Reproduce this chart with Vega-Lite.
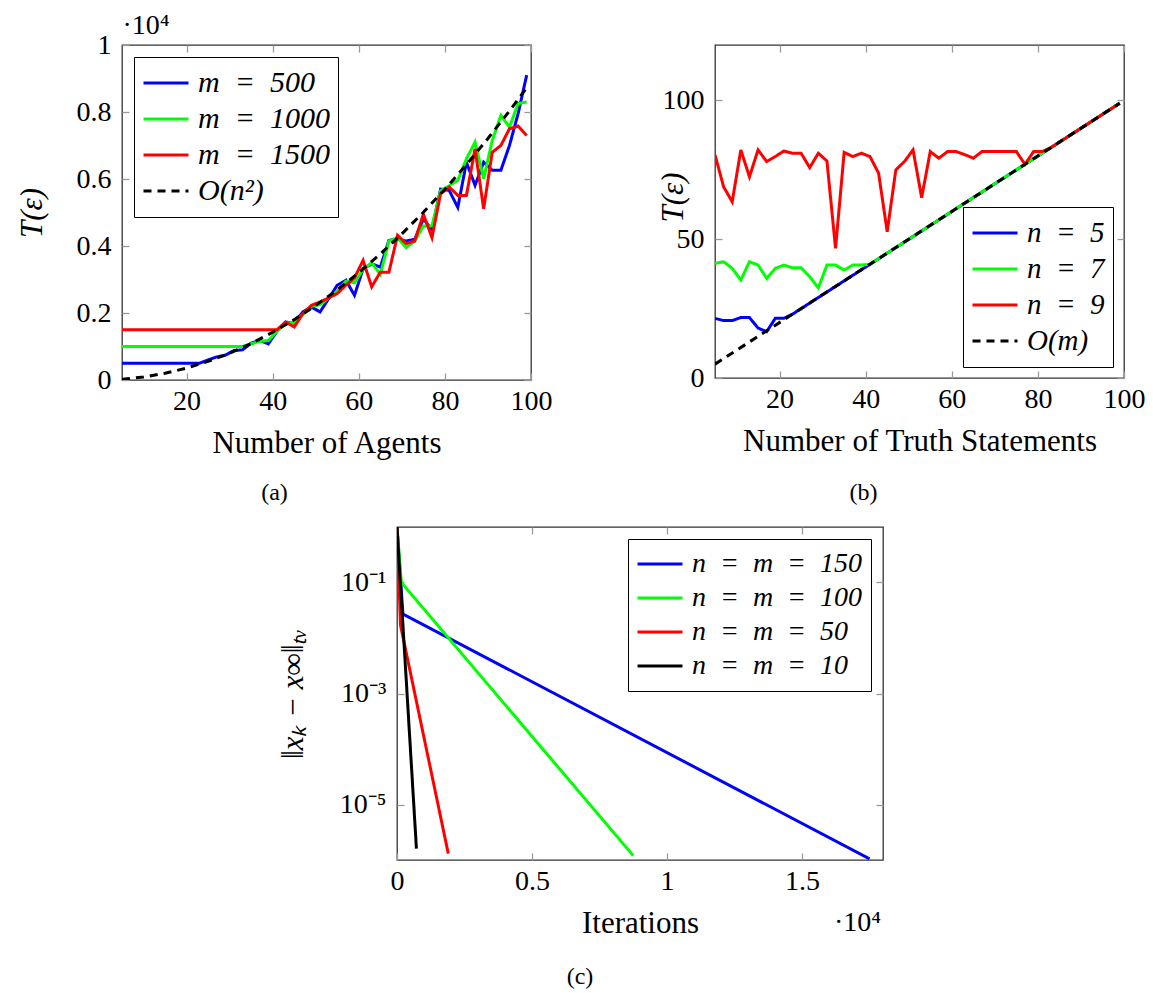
{
"$schema": "https://vega.github.io/schema/vega-lite/v6.json",
"padding": {"left": 15, "top": 10, "right": 0, "bottom": 8},
"spacing": 19,
"resolve": {"scale": {"color": "independent", "strokeDash": "independent"}},
"vconcat": [
{"concat": [
{
"width": 409, "height": 335,
"title": {"text": "(a)", "dx": -52, "offset": 23},
"data": {"values": [
{"s":"m\u2002=\u2002500","x":5,"y":500},{"s":"m\u2002=\u2002500","x":7,"y":500},{"s":"m\u2002=\u2002500","x":9,"y":500},{"s":"m\u2002=\u2002500","x":11,"y":500},{"s":"m\u2002=\u2002500","x":13,"y":500},{"s":"m\u2002=\u2002500","x":15,"y":500},{"s":"m\u2002=\u2002500","x":17,"y":500},{"s":"m\u2002=\u2002500","x":19,"y":500},{"s":"m\u2002=\u2002500","x":21,"y":500},{"s":"m\u2002=\u2002500","x":23,"y":500},{"s":"m\u2002=\u2002500","x":25,"y":600},{"s":"m\u2002=\u2002500","x":27,"y":690},{"s":"m\u2002=\u2002500","x":29,"y":740},{"s":"m\u2002=\u2002500","x":31,"y":880},{"s":"m\u2002=\u2002500","x":33,"y":900},{"s":"m\u2002=\u2002500","x":35,"y":1100},{"s":"m\u2002=\u2002500","x":37,"y":1180},{"s":"m\u2002=\u2002500","x":39,"y":1080},{"s":"m\u2002=\u2002500","x":41,"y":1450},{"s":"m\u2002=\u2002500","x":43,"y":1730},{"s":"m\u2002=\u2002500","x":45,"y":1700},{"s":"m\u2002=\u2002500","x":47,"y":2030},{"s":"m\u2002=\u2002500","x":49,"y":2180},{"s":"m\u2002=\u2002500","x":51,"y":2030},{"s":"m\u2002=\u2002500","x":53,"y":2430},{"s":"m\u2002=\u2002500","x":55,"y":2830},{"s":"m\u2002=\u2002500","x":57,"y":2980},{"s":"m\u2002=\u2002500","x":59,"y":2530},{"s":"m\u2002=\u2002500","x":61,"y":3320},{"s":"m\u2002=\u2002500","x":63,"y":3470},{"s":"m\u2002=\u2002500","x":65,"y":3370},{"s":"m\u2002=\u2002500","x":67,"y":4170},{"s":"m\u2002=\u2002500","x":69,"y":4200},{"s":"m\u2002=\u2002500","x":71,"y":4150},{"s":"m\u2002=\u2002500","x":73,"y":4200},{"s":"m\u2002=\u2002500","x":75,"y":4800},{"s":"m\u2002=\u2002500","x":77,"y":4500},{"s":"m\u2002=\u2002500","x":79,"y":5700},{"s":"m\u2002=\u2002500","x":81,"y":5660},{"s":"m\u2002=\u2002500","x":83,"y":5150},{"s":"m\u2002=\u2002500","x":85,"y":6500},{"s":"m\u2002=\u2002500","x":87,"y":5810},{"s":"m\u2002=\u2002500","x":89,"y":6500},{"s":"m\u2002=\u2002500","x":91,"y":6260},{"s":"m\u2002=\u2002500","x":93,"y":6260},{"s":"m\u2002=\u2002500","x":95,"y":7000},{"s":"m\u2002=\u2002500","x":97,"y":7950},{"s":"m\u2002=\u2002500","x":99,"y":9100},
{"s":"m\u2002=\u20021000","x":5,"y":1000},{"s":"m\u2002=\u20021000","x":7,"y":1000},{"s":"m\u2002=\u20021000","x":9,"y":1000},{"s":"m\u2002=\u20021000","x":11,"y":1000},{"s":"m\u2002=\u20021000","x":13,"y":1000},{"s":"m\u2002=\u20021000","x":15,"y":1000},{"s":"m\u2002=\u20021000","x":17,"y":1000},{"s":"m\u2002=\u20021000","x":19,"y":1000},{"s":"m\u2002=\u20021000","x":21,"y":1000},{"s":"m\u2002=\u20021000","x":23,"y":1000},{"s":"m\u2002=\u20021000","x":25,"y":1000},{"s":"m\u2002=\u20021000","x":27,"y":1000},{"s":"m\u2002=\u20021000","x":29,"y":1000},{"s":"m\u2002=\u20021000","x":31,"y":1000},{"s":"m\u2002=\u20021000","x":33,"y":1000},{"s":"m\u2002=\u20021000","x":35,"y":1080},{"s":"m\u2002=\u20021000","x":37,"y":1150},{"s":"m\u2002=\u20021000","x":39,"y":1180},{"s":"m\u2002=\u20021000","x":41,"y":1450},{"s":"m\u2002=\u20021000","x":43,"y":1700},{"s":"m\u2002=\u20021000","x":45,"y":1720},{"s":"m\u2002=\u20021000","x":47,"y":1950},{"s":"m\u2002=\u20021000","x":49,"y":2200},{"s":"m\u2002=\u20021000","x":51,"y":2250},{"s":"m\u2002=\u20021000","x":53,"y":2450},{"s":"m\u2002=\u20021000","x":55,"y":2650},{"s":"m\u2002=\u20021000","x":57,"y":2950},{"s":"m\u2002=\u20021000","x":59,"y":2900},{"s":"m\u2002=\u20021000","x":61,"y":3300},{"s":"m\u2002=\u20021000","x":63,"y":3500},{"s":"m\u2002=\u20021000","x":65,"y":3150},{"s":"m\u2002=\u20021000","x":67,"y":4150},{"s":"m\u2002=\u20021000","x":69,"y":4250},{"s":"m\u2002=\u20021000","x":71,"y":3950},{"s":"m\u2002=\u20021000","x":73,"y":4150},{"s":"m\u2002=\u20021000","x":75,"y":4600},{"s":"m\u2002=\u20021000","x":77,"y":4600},{"s":"m\u2002=\u20021000","x":79,"y":5650},{"s":"m\u2002=\u20021000","x":81,"y":5800},{"s":"m\u2002=\u20021000","x":83,"y":5960},{"s":"m\u2002=\u20021000","x":85,"y":6600},{"s":"m\u2002=\u20021000","x":87,"y":7100},{"s":"m\u2002=\u20021000","x":89,"y":6010},{"s":"m\u2002=\u20021000","x":91,"y":7150},{"s":"m\u2002=\u20021000","x":93,"y":7900},{"s":"m\u2002=\u20021000","x":95,"y":7550},{"s":"m\u2002=\u20021000","x":97,"y":8250},{"s":"m\u2002=\u20021000","x":99,"y":8300},
{"s":"m\u2002=\u20021500","x":5,"y":1500},{"s":"m\u2002=\u20021500","x":7,"y":1500},{"s":"m\u2002=\u20021500","x":9,"y":1500},{"s":"m\u2002=\u20021500","x":11,"y":1500},{"s":"m\u2002=\u20021500","x":13,"y":1500},{"s":"m\u2002=\u20021500","x":15,"y":1500},{"s":"m\u2002=\u20021500","x":17,"y":1500},{"s":"m\u2002=\u20021500","x":19,"y":1500},{"s":"m\u2002=\u20021500","x":21,"y":1500},{"s":"m\u2002=\u20021500","x":23,"y":1500},{"s":"m\u2002=\u20021500","x":25,"y":1500},{"s":"m\u2002=\u20021500","x":27,"y":1500},{"s":"m\u2002=\u20021500","x":29,"y":1500},{"s":"m\u2002=\u20021500","x":31,"y":1500},{"s":"m\u2002=\u20021500","x":33,"y":1500},{"s":"m\u2002=\u20021500","x":35,"y":1500},{"s":"m\u2002=\u20021500","x":37,"y":1500},{"s":"m\u2002=\u20021500","x":39,"y":1500},{"s":"m\u2002=\u20021500","x":41,"y":1500},{"s":"m\u2002=\u20021500","x":43,"y":1730},{"s":"m\u2002=\u20021500","x":45,"y":1580},{"s":"m\u2002=\u20021500","x":47,"y":1980},{"s":"m\u2002=\u20021500","x":49,"y":2230},{"s":"m\u2002=\u20021500","x":51,"y":2330},{"s":"m\u2002=\u20021500","x":53,"y":2450},{"s":"m\u2002=\u20021500","x":55,"y":2580},{"s":"m\u2002=\u20021500","x":57,"y":2830},{"s":"m\u2002=\u20021500","x":59,"y":3050},{"s":"m\u2002=\u20021500","x":61,"y":3570},{"s":"m\u2002=\u20021500","x":63,"y":2780},{"s":"m\u2002=\u20021500","x":65,"y":3220},{"s":"m\u2002=\u20021500","x":67,"y":3220},{"s":"m\u2002=\u20021500","x":69,"y":4320},{"s":"m\u2002=\u20021500","x":71,"y":4070},{"s":"m\u2002=\u20021500","x":73,"y":4150},{"s":"m\u2002=\u20021500","x":75,"y":4950},{"s":"m\u2002=\u20021500","x":77,"y":4250},{"s":"m\u2002=\u20021500","x":79,"y":5560},{"s":"m\u2002=\u20021500","x":81,"y":5760},{"s":"m\u2002=\u20021500","x":83,"y":5510},{"s":"m\u2002=\u20021500","x":85,"y":5510},{"s":"m\u2002=\u20021500","x":87,"y":6900},{"s":"m\u2002=\u20021500","x":89,"y":5110},{"s":"m\u2002=\u20021500","x":91,"y":6800},{"s":"m\u2002=\u20021500","x":93,"y":7000},{"s":"m\u2002=\u20021500","x":95,"y":7500},{"s":"m\u2002=\u20021500","x":97,"y":7580},{"s":"m\u2002=\u20021500","x":99,"y":7300},
{"s":"O(n²)","x":5,"y":22},{"s":"O(n²)","x":10,"y":89},{"s":"O(n²)","x":15,"y":200},{"s":"O(n²)","x":20,"y":356},{"s":"O(n²)","x":25,"y":556},{"s":"O(n²)","x":30,"y":801},{"s":"O(n²)","x":35,"y":1090},{"s":"O(n²)","x":40,"y":1424},{"s":"O(n²)","x":45,"y":1802},{"s":"O(n²)","x":50,"y":2225},{"s":"O(n²)","x":55,"y":2692},{"s":"O(n²)","x":60,"y":3204},{"s":"O(n²)","x":65,"y":3760},{"s":"O(n²)","x":70,"y":4361},{"s":"O(n²)","x":75,"y":5006},{"s":"O(n²)","x":80,"y":5696},{"s":"O(n²)","x":85,"y":6430},{"s":"O(n²)","x":90,"y":7209},{"s":"O(n²)","x":95,"y":8032},{"s":"O(n²)","x":99,"y":8723}
]},
"resolve": {"scale": {"x": "independent", "y": "independent"}},
"layer": [
{"transform": [{"filter": "datum.s !== 'O(n²)'"}],
 "mark": {"type": "line", "strokeWidth": 3, "clip": true},
 "encoding": {
  "x": {"field": "x", "type": "quantitative", "scale": {"domain": [5, 100], "nice": false, "zero": false}, "axis": {"orient": "bottom", "values": [20, 40, 60, 80, 100], "title": "Number of Agents"}},
  "y": {"field": "y", "type": "quantitative", "scale": {"domain": [0, 10000], "nice": false}, "axis": {"orient": "left", "values": [0, 2000, 4000, 6000, 8000, 10000], "labelExpr": "format(datum.value/10000, '.1~f')", "title": "T(ε)", "titleFontStyle": "italic", "titlePadding": 28}},
  "color": {"field": "s", "type": "nominal", "scale": {"domain": ["m\u2002=\u2002500", "m\u2002=\u20021000", "m\u2002=\u20021500", "O(n²)"], "range": ["#0000ff", "#00ff00", "#ff0000", "#000000"]}, "legend": {"orient": "top-left", "offset": 12, "labelFontSize": 30, "clipHeight": 36}},
  "strokeDash": {"field": "s", "type": "nominal", "scale": {"domain": ["m\u2002=\u2002500", "m\u2002=\u20021000", "m\u2002=\u20021500", "O(n²)"], "range": [[1, 0], [1, 0], [1, 0], [8, 6]]}, "legend": {"orient": "top-left", "offset": 12, "labelFontSize": 30, "clipHeight": 36}}
 }},
{"transform": [{"filter": "datum.s === 'O(n²)'"}],
 "mark": {"type": "line", "strokeWidth": 3, "clip": true},
 "encoding": {
  "x": {"field": "x", "type": "quantitative", "scale": {"domain": [5, 100], "nice": false, "zero": false}, "axis": {"orient": "top", "values": [20, 40, 60, 80, 100], "labels": false, "title": "·10⁴", "titleFontSize": 28, "titleFontStyle": "normal", "titleAnchor": "start", "titleAlign": "left", "titlePadding": 5}},
  "y": {"field": "y", "type": "quantitative", "scale": {"domain": [0, 10000], "nice": false}, "axis": {"orient": "right", "values": [0, 2000, 4000, 6000, 8000, 10000], "labels": false, "title": null}},
  "color": {"field": "s", "type": "nominal"},
  "strokeDash": {"field": "s", "type": "nominal"}
 }}
]
},
{
"width": 409, "height": 333,
"title": {"text": "(b)", "dx": -56, "offset": 25},
"data": {"values": [
{"s":"n\u2002=\u20025","x":5,"y":21.5},{"s":"n\u2002=\u20025","x":7,"y":20.7},{"s":"n\u2002=\u20025","x":9,"y":20.7},{"s":"n\u2002=\u20025","x":11,"y":21.8},{"s":"n\u2002=\u20025","x":13,"y":21.8},{"s":"n\u2002=\u20025","x":15,"y":18},{"s":"n\u2002=\u20025","x":17,"y":16.7},{"s":"n\u2002=\u20025","x":19,"y":21.5},{"s":"n\u2002=\u20025","x":21,"y":21.5},{"s":"n\u2002=\u20025","x":23,"y":23},{"s":"n\u2002=\u20025","x":25,"y":25},{"s":"n\u2002=\u20025","x":27,"y":27},{"s":"n\u2002=\u20025","x":29,"y":29},{"s":"n\u2002=\u20025","x":31,"y":31},{"s":"n\u2002=\u20025","x":33,"y":33},{"s":"n\u2002=\u20025","x":35,"y":35},{"s":"n\u2002=\u20025","x":37,"y":37},{"s":"n\u2002=\u20025","x":39,"y":39},{"s":"n\u2002=\u20025","x":41,"y":41},{"s":"n\u2002=\u20025","x":43,"y":43},{"s":"n\u2002=\u20025","x":45,"y":45},{"s":"n\u2002=\u20025","x":47,"y":47},{"s":"n\u2002=\u20025","x":49,"y":49},{"s":"n\u2002=\u20025","x":51,"y":51},{"s":"n\u2002=\u20025","x":53,"y":53},{"s":"n\u2002=\u20025","x":55,"y":55},{"s":"n\u2002=\u20025","x":57,"y":57},{"s":"n\u2002=\u20025","x":59,"y":59},{"s":"n\u2002=\u20025","x":61,"y":61},{"s":"n\u2002=\u20025","x":63,"y":63},{"s":"n\u2002=\u20025","x":65,"y":65},{"s":"n\u2002=\u20025","x":67,"y":67},{"s":"n\u2002=\u20025","x":69,"y":69},{"s":"n\u2002=\u20025","x":71,"y":71},{"s":"n\u2002=\u20025","x":73,"y":73},{"s":"n\u2002=\u20025","x":75,"y":75},{"s":"n\u2002=\u20025","x":77,"y":77},{"s":"n\u2002=\u20025","x":79,"y":79},{"s":"n\u2002=\u20025","x":81,"y":81},{"s":"n\u2002=\u20025","x":83,"y":83},{"s":"n\u2002=\u20025","x":85,"y":85},{"s":"n\u2002=\u20025","x":87,"y":87},{"s":"n\u2002=\u20025","x":89,"y":89},{"s":"n\u2002=\u20025","x":91,"y":91},{"s":"n\u2002=\u20025","x":93,"y":93},{"s":"n\u2002=\u20025","x":95,"y":95},{"s":"n\u2002=\u20025","x":97,"y":97},{"s":"n\u2002=\u20025","x":99,"y":99},
{"s":"n\u2002=\u20027","x":5,"y":41.3},{"s":"n\u2002=\u20027","x":7,"y":41.9},{"s":"n\u2002=\u20027","x":9,"y":39.5},{"s":"n\u2002=\u20027","x":11,"y":35.3},{"s":"n\u2002=\u20027","x":13,"y":41.9},{"s":"n\u2002=\u20027","x":15,"y":40.7},{"s":"n\u2002=\u20027","x":17,"y":35.9},{"s":"n\u2002=\u20027","x":19,"y":39.5},{"s":"n\u2002=\u20027","x":21,"y":40.7},{"s":"n\u2002=\u20027","x":23,"y":39.7},{"s":"n\u2002=\u20027","x":25,"y":39.7},{"s":"n\u2002=\u20027","x":27,"y":36.5},{"s":"n\u2002=\u20027","x":29,"y":32.5},{"s":"n\u2002=\u20027","x":31,"y":40.7},{"s":"n\u2002=\u20027","x":33,"y":40.7},{"s":"n\u2002=\u20027","x":35,"y":38.9},{"s":"n\u2002=\u20027","x":37,"y":40.7},{"s":"n\u2002=\u20027","x":39,"y":40.7},{"s":"n\u2002=\u20027","x":41,"y":41},{"s":"n\u2002=\u20027","x":43,"y":43},{"s":"n\u2002=\u20027","x":45,"y":45},{"s":"n\u2002=\u20027","x":47,"y":47},{"s":"n\u2002=\u20027","x":49,"y":49},{"s":"n\u2002=\u20027","x":51,"y":51},{"s":"n\u2002=\u20027","x":53,"y":53},{"s":"n\u2002=\u20027","x":55,"y":55},{"s":"n\u2002=\u20027","x":57,"y":57},{"s":"n\u2002=\u20027","x":59,"y":59},{"s":"n\u2002=\u20027","x":61,"y":61},{"s":"n\u2002=\u20027","x":63,"y":63},{"s":"n\u2002=\u20027","x":65,"y":65},{"s":"n\u2002=\u20027","x":67,"y":67},{"s":"n\u2002=\u20027","x":69,"y":69},{"s":"n\u2002=\u20027","x":71,"y":71},{"s":"n\u2002=\u20027","x":73,"y":73},{"s":"n\u2002=\u20027","x":75,"y":75},{"s":"n\u2002=\u20027","x":77,"y":77},{"s":"n\u2002=\u20027","x":79,"y":79},{"s":"n\u2002=\u20027","x":81,"y":81},{"s":"n\u2002=\u20027","x":83,"y":83},{"s":"n\u2002=\u20027","x":85,"y":85},{"s":"n\u2002=\u20027","x":87,"y":87},{"s":"n\u2002=\u20027","x":89,"y":89},{"s":"n\u2002=\u20027","x":91,"y":91},{"s":"n\u2002=\u20027","x":93,"y":93},{"s":"n\u2002=\u20027","x":95,"y":95},{"s":"n\u2002=\u20027","x":97,"y":97},{"s":"n\u2002=\u20027","x":99,"y":99},
{"s":"n\u2002=\u20029","x":5,"y":80.4},{"s":"n\u2002=\u20029","x":7,"y":68.9},{"s":"n\u2002=\u20029","x":9,"y":63.5},{"s":"n\u2002=\u20029","x":11,"y":82.2},{"s":"n\u2002=\u20029","x":13,"y":72.5},{"s":"n\u2002=\u20029","x":15,"y":82.2},{"s":"n\u2002=\u20029","x":17,"y":78},{"s":"n\u2002=\u20029","x":19,"y":79.8},{"s":"n\u2002=\u20029","x":21,"y":81.8},{"s":"n\u2002=\u20029","x":23,"y":81},{"s":"n\u2002=\u20029","x":25,"y":81},{"s":"n\u2002=\u20029","x":27,"y":75.8},{"s":"n\u2002=\u20029","x":29,"y":81},{"s":"n\u2002=\u20029","x":31,"y":78.2},{"s":"n\u2002=\u20029","x":33,"y":46.7},{"s":"n\u2002=\u20029","x":35,"y":81.3},{"s":"n\u2002=\u20029","x":37,"y":79.8},{"s":"n\u2002=\u20029","x":39,"y":81},{"s":"n\u2002=\u20029","x":41,"y":79.8},{"s":"n\u2002=\u20029","x":43,"y":73.8},{"s":"n\u2002=\u20029","x":45,"y":52.7},{"s":"n\u2002=\u20029","x":47,"y":75},{"s":"n\u2002=\u20029","x":49,"y":78},{"s":"n\u2002=\u20029","x":51,"y":82.2},{"s":"n\u2002=\u20029","x":53,"y":65},{"s":"n\u2002=\u20029","x":55,"y":81.6},{"s":"n\u2002=\u20029","x":57,"y":79.2},{"s":"n\u2002=\u20029","x":59,"y":81.6},{"s":"n\u2002=\u20029","x":61,"y":81.6},{"s":"n\u2002=\u20029","x":63,"y":80.5},{"s":"n\u2002=\u20029","x":65,"y":79.2},{"s":"n\u2002=\u20029","x":67,"y":81.6},{"s":"n\u2002=\u20029","x":69,"y":81.6},{"s":"n\u2002=\u20029","x":71,"y":81.6},{"s":"n\u2002=\u20029","x":73,"y":81.6},{"s":"n\u2002=\u20029","x":75,"y":81.6},{"s":"n\u2002=\u20029","x":77,"y":77},{"s":"n\u2002=\u20029","x":79,"y":81.6},{"s":"n\u2002=\u20029","x":81,"y":81.6},{"s":"n\u2002=\u20029","x":83,"y":83},{"s":"n\u2002=\u20029","x":85,"y":85},{"s":"n\u2002=\u20029","x":87,"y":87},{"s":"n\u2002=\u20029","x":89,"y":89},{"s":"n\u2002=\u20029","x":91,"y":91},{"s":"n\u2002=\u20029","x":93,"y":93},{"s":"n\u2002=\u20029","x":95,"y":95},{"s":"n\u2002=\u20029","x":97,"y":97},{"s":"n\u2002=\u20029","x":99,"y":99},
{"s":"O(m)","x":5,"y":5},{"s":"O(m)","x":99,"y":99}
]},
"resolve": {"scale": {"x": "independent", "y": "independent"}},
"layer": [
{"transform": [{"filter": "datum.s !== 'O(m)'"}],
 "mark": {"type": "line", "strokeWidth": 3, "clip": true},
 "encoding": {
  "x": {"field": "x", "type": "quantitative", "scale": {"domain": [5, 100], "nice": false, "zero": false}, "axis": {"orient": "bottom", "values": [20, 40, 60, 80, 100], "title": "Number of Truth Statements"}},
  "y": {"field": "y", "type": "quantitative", "scale": {"domain": [0, 120], "nice": false}, "axis": {"orient": "left", "values": [0, 50, 100], "title": "T(ε)", "titleFontStyle": "italic", "titlePadding": -27, "titleY": 152}},
  "color": {"field": "s", "type": "nominal", "scale": {"domain": ["n\u2002=\u20025", "n\u2002=\u20027", "n\u2002=\u20029", "O(m)"], "range": ["#0000ff", "#00ff00", "#ff0000", "#000000"]}, "legend": {"orient": "bottom-right", "offset": 11, "labelFontSize": 29, "clipHeight": 36}},
  "strokeDash": {"field": "s", "type": "nominal", "scale": {"domain": ["n\u2002=\u20025", "n\u2002=\u20027", "n\u2002=\u20029", "O(m)"], "range": [[1, 0], [1, 0], [1, 0], [8, 6]]}, "legend": {"orient": "bottom-right", "offset": 11, "labelFontSize": 29, "clipHeight": 36}}
 }},
{"transform": [{"filter": "datum.s === 'O(m)'"}],
 "mark": {"type": "line", "strokeWidth": 3, "clip": true},
 "encoding": {
  "x": {"field": "x", "type": "quantitative", "scale": {"domain": [5, 100], "nice": false, "zero": false}, "axis": {"orient": "top", "values": [20, 40, 60, 80, 100], "labels": false, "title": null}},
  "y": {"field": "y", "type": "quantitative", "scale": {"domain": [0, 120], "nice": false}, "axis": {"orient": "right", "values": [0, 50, 100], "labels": false, "title": null}},
  "color": {"field": "s", "type": "nominal"},
  "strokeDash": {"field": "s", "type": "nominal"}
 }}
]
}
], "columns": 2, "align": "none", "spacing": 103, "resolve": {"scale": {"color": "independent", "strokeDash": "independent"}}},
{"hconcat": [
{"width": 275, "height": 1, "data": {"values": []}, "mark": "point", "view": {"stroke": null}},
{
"width": 486, "height": 333,
"title": {"text": "(c)", "dx": -60, "offset": 27},
"data": {"values": [
{"s":"n\u2002=\u2002m\u2002=\u2002150","x":0,"y":1},{"s":"n\u2002=\u2002m\u2002=\u2002150","x":220,"y":0.027},{"s":"n\u2002=\u2002m\u2002=\u2002150","x":17500,"y":1.05e-6},
{"s":"n\u2002=\u2002m\u2002=\u2002100","x":0,"y":1},{"s":"n\u2002=\u2002m\u2002=\u2002100","x":160,"y":0.1},{"s":"n\u2002=\u2002m\u2002=\u2002100","x":8750,"y":1.2e-6},
{"s":"n\u2002=\u2002m\u2002=\u200250","x":0,"y":1},{"s":"n\u2002=\u2002m\u2002=\u200250","x":130,"y":0.017},{"s":"n\u2002=\u2002m\u2002=\u200250","x":1900,"y":1.3e-6},
{"s":"n\u2002=\u2002m\u2002=\u200210","x":0,"y":1},{"s":"n\u2002=\u2002m\u2002=\u200210","x":720,"y":1.6e-6}
]},
"resolve": {"scale": {"x": "independent", "y": "independent"}},
"layer": [
{"mark": {"type": "line", "strokeWidth": 3, "clip": true},
 "encoding": {
  "x": {"field": "x", "type": "quantitative", "scale": {"domain": [0, 18000], "nice": false}, "axis": {"orient": "bottom", "values": [0, 5000, 10000, 15000], "labelExpr": "format(datum.value/10000, '~g')", "title": "Iterations"}},
  "y": {"field": "y", "type": "quantitative", "scale": {"type": "log", "domain": [0.000001, 1], "nice": false}, "axis": {"orient": "left", "values": [0.1, 0.001, 0.00001], "labelExpr": "'10' + (datum.value > 0.01 ? '⁻¹' : datum.value > 0.0001 ? '⁻³' : '⁻⁵')", "title": "‖xₖ − x∞‖ₜᵥ", "titleFontStyle": "italic", "titlePadding": 30}},
  "color": {"field": "s", "type": "nominal", "scale": {"domain": ["n\u2002=\u2002m\u2002=\u2002150", "n\u2002=\u2002m\u2002=\u2002100", "n\u2002=\u2002m\u2002=\u200250", "n\u2002=\u2002m\u2002=\u200210"], "range": ["#0000ff", "#00ff00", "#ff0000", "#000000"]}, "legend": {"orient": "top-right", "offset": 12, "labelFontSize": 28, "clipHeight": 34}}
 }},
{"data": {"values": [{}]},
 "mark": {"type": "text", "align": "right", "baseline": "middle", "dx": -2, "dy": 63, "fontSize": 28, "font": "Liberation Serif"},
 "encoding": {
  "x": {"datum": 18000, "type": "quantitative", "scale": {"domain": [0, 18000], "nice": false}, "axis": {"orient": "top", "values": [0, 5000, 10000, 15000], "labels": false, "title": null}},
  "y": {"datum": 0.000001, "type": "quantitative", "scale": {"type": "log", "domain": [0.000001, 1], "nice": false}, "axis": {"orient": "right", "values": [0.1, 0.001, 0.00001], "labels": false, "title": null}},
  "text": {"value": "·10⁴"}}}
]
}
], "spacing": 0, "bounds": "flush", "resolve": {"scale": {"color": "independent", "strokeDash": "independent"}}}
],
"config": {
 "font": "Liberation Serif",
 "background": "white",
 "view": {"stroke": "#333333", "strokeWidth": 1.3},
 "axis": {"domain": false, "grid": false, "tickColor": "#9a9a9a", "tickSize": -7, "tickWidth": 1.3, "labelFontSize": 28, "labelColor": "#000000", "labelFont": "Liberation Serif", "titleFont": "Liberation Serif", "titleFontSize": 31, "titleFontWeight": "normal", "titleColor": "#000000", "labelFlush": false, "labelOverlap": false},
 "axisX": {"labelPadding": 14, "titlePadding": 13},
 "axisY": {"labelPadding": 18},
 "legend": {"title": null, "strokeColor": "#000000", "fillColor": "#ffffff", "padding": 8, "symbolType": "stroke", "symbolSize": 2025, "symbolStrokeWidth": 3, "labelFontSize": 28, "labelFont": "Liberation Serif", "labelFontStyle": "italic", "labelColor": "#000000", "rowPadding": 0, "labelOffset": 8, "labelLimit": 400},
 "title": {"orient": "bottom", "anchor": "middle", "frame": "group", "fontSize": 24, "fontWeight": "normal", "font": "Liberation Serif", "color": "#000000"}
}
}
